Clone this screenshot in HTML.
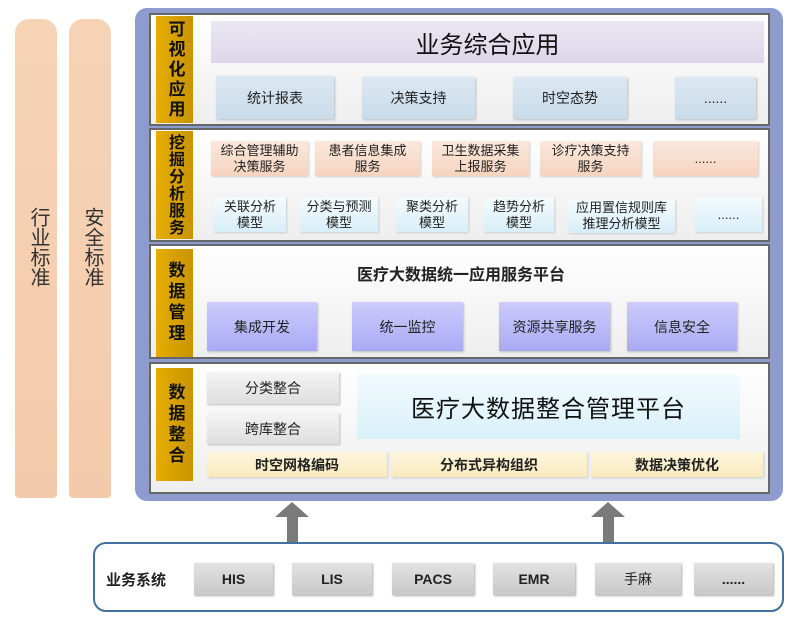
<!DOCTYPE html>
<html><head><meta charset="utf-8"><style>
*{margin:0;padding:0;box-sizing:border-box}
body{width:795px;height:619px;background:#fff;position:relative;overflow:hidden;font-family:"Liberation Sans","Noto Sans CJK SC",sans-serif;color:#222}
div{position:absolute}
.c{display:flex;align-items:center;justify-content:center;text-align:center}
.pil{background:linear-gradient(#f7d3b6,#f3cbab);border-radius:14px 14px 4px 4px;top:19px;height:479px;width:42px}
.pt{writing-mode:vertical-rl;font-size:20px;letter-spacing:0;top:188px;left:9px;color:#333}
.frame{left:135px;top:8px;width:648px;height:493px;background:#8e9bcf;border-radius:12px}
.pan{left:149px;width:621px;background:linear-gradient(#fff,#eeeeee);border:2px solid #666}
.lab{left:156px;width:37px;background:linear-gradient(90deg,#e6ad00,#c89400);font-weight:bold;font-size:17px;line-height:20px;color:#111;writing-mode:vertical-rl;display:flex;align-items:center;justify-content:center}
.sub{background:linear-gradient(#dce8f2,#c9dbea);font-size:14px;box-shadow:1px 1px 2px #bbb}
.or{background:linear-gradient(#fbe8dc,#f5d4bf);font-size:13px;line-height:16px;box-shadow:1px 1px 2px #ccc}
.bl{background:linear-gradient(#f5fbfe,#d8eef8);font-size:13px;line-height:16px;box-shadow:1px 1px 2px #ccc}
.pu{background:linear-gradient(#ccccfc,#a9a9f5);font-size:14px;box-shadow:1px 1px 2px #bbb}
.gr{background:linear-gradient(#f4f4f4,#dedede);font-size:14px;box-shadow:1px 1px 2px #bbb}
.ye{background:linear-gradient(#fdf6dc,#f9e9bd);font-size:14px;font-weight:bold;box-shadow:1px 1px 2px #ccc}
.gb{background:linear-gradient(#e2e2e2,#c8c8c8);font-size:14px;font-weight:bold;top:563px;height:32px;box-shadow:1px 1px 2px #aaa}
</style></head><body>
<div class="pil" style="left:15px"><div class="pt">行业标准</div></div>
<div class="pil" style="left:69px"><div class="pt">安全标准</div></div>
<div class="frame"></div>

<div class="pan" style="top:13px;height:113px"></div>
<div class="lab" style="top:16px;height:107px;letter-spacing:3px">可视化应用</div>
<div class="c" style="left:211px;top:21px;width:553px;height:42px;background:linear-gradient(#ebe8f2,#ddd5e9);font-size:24px;color:#111">业务综合应用</div>
<div class="c sub" style="left:216px;top:76px;width:118px;height:43px">统计报表</div>
<div class="c sub" style="left:362px;top:77px;width:113px;height:42px">决策支持</div>
<div class="c sub" style="left:513px;top:77px;width:114px;height:42px">时空态势</div>
<div class="c sub" style="left:675px;top:77px;width:81px;height:42px">......</div>

<div class="pan" style="top:128px;height:114px"></div>
<div class="lab" style="top:131px;height:108px;font-size:16px;line-height:19px;letter-spacing:1px">挖掘分析服务</div>
<div class="c or" style="left:211px;top:141px;width:97px;height:35px">综合管理辅助<br>决策服务</div>
<div class="c or" style="left:315px;top:141px;width:105px;height:35px">患者信息集成<br>服务</div>
<div class="c or" style="left:432px;top:141px;width:97px;height:35px">卫生数据采集<br>上报服务</div>
<div class="c or" style="left:540px;top:141px;width:101px;height:35px">诊疗决策支持<br>服务</div>
<div class="c or" style="left:653px;top:141px;width:105px;height:35px">......</div>
<div class="c bl" style="left:214px;top:197px;width:72px;height:35px">关联分析<br>模型</div>
<div class="c bl" style="left:300px;top:197px;width:78px;height:35px">分类与预测<br>模型</div>
<div class="c bl" style="left:396px;top:197px;width:72px;height:35px">聚类分析<br>模型</div>
<div class="c bl" style="left:484px;top:197px;width:70px;height:35px">趋势分析<br>模型</div>
<div class="c bl" style="left:568px;top:199px;width:107px;height:34px">应用置信规则库<br>推理分析模型</div>
<div class="c bl" style="left:695px;top:197px;width:67px;height:35px">......</div>

<div class="pan" style="top:244px;height:115px"></div>
<div class="lab" style="top:249px;height:108px;letter-spacing:4px">数据管理</div>
<div class="c" style="left:211px;top:262px;width:500px;height:22px;font-size:16px;font-weight:bold">医疗大数据统一应用服务平台</div>
<div class="c pu" style="left:207px;top:302px;width:110px;height:49px">集成开发</div>
<div class="c pu" style="left:352px;top:302px;width:111px;height:49px">统一监控</div>
<div class="c pu" style="left:499px;top:302px;width:111px;height:49px">资源共享服务</div>
<div class="c pu" style="left:627px;top:302px;width:110px;height:49px">信息安全</div>

<div class="pan" style="top:362px;height:132px"></div>
<div class="lab" style="top:368px;height:113px;letter-spacing:4px">数据整合</div>
<div class="c gr" style="left:207px;top:372px;width:132px;height:32px">分类整合</div>
<div class="c gr" style="left:207px;top:413px;width:132px;height:31px">跨库整合</div>
<div class="c" style="left:357px;top:374px;width:383px;height:65px;background:linear-gradient(#f2fbfe,#d9f0f9);font-size:24px;letter-spacing:1px;color:#111">医疗大数据整合管理平台</div>
<div class="c ye" style="left:207px;top:452px;width:180px;height:25px">时空网格编码</div>
<div class="c ye" style="left:391px;top:452px;width:196px;height:25px">分布式异构组织</div>
<div class="c ye" style="left:591px;top:452px;width:172px;height:25px">数据决策优化</div>

<svg style="position:absolute;left:0;top:0" width="795" height="619">
<g fill="#7a7a7a">
<polygon points="275,517 292,502 309,517 298,517 298,542 287,542 287,517"/>
<polygon points="591,517 608,502 625,517 614,517 614,542 603,542 603,517"/>
</g>
<rect x="94" y="543" width="689" height="68" rx="12" fill="#fff" stroke="#41719c" stroke-width="2"/>
</svg>
<div style="left:106px;top:569px;font-size:15px;font-weight:bold">业务系统</div>
<div class="c gb" style="left:194px;width:79px">HIS</div>
<div class="c gb" style="left:292px;width:80px">LIS</div>
<div class="c gb" style="left:392px;width:82px">PACS</div>
<div class="c gb" style="left:493px;width:82px">EMR</div>
<div class="c gb" style="left:595px;width:86px;font-weight:normal">手麻</div>
<div class="c gb" style="left:694px;width:79px">......</div>
</body></html>
